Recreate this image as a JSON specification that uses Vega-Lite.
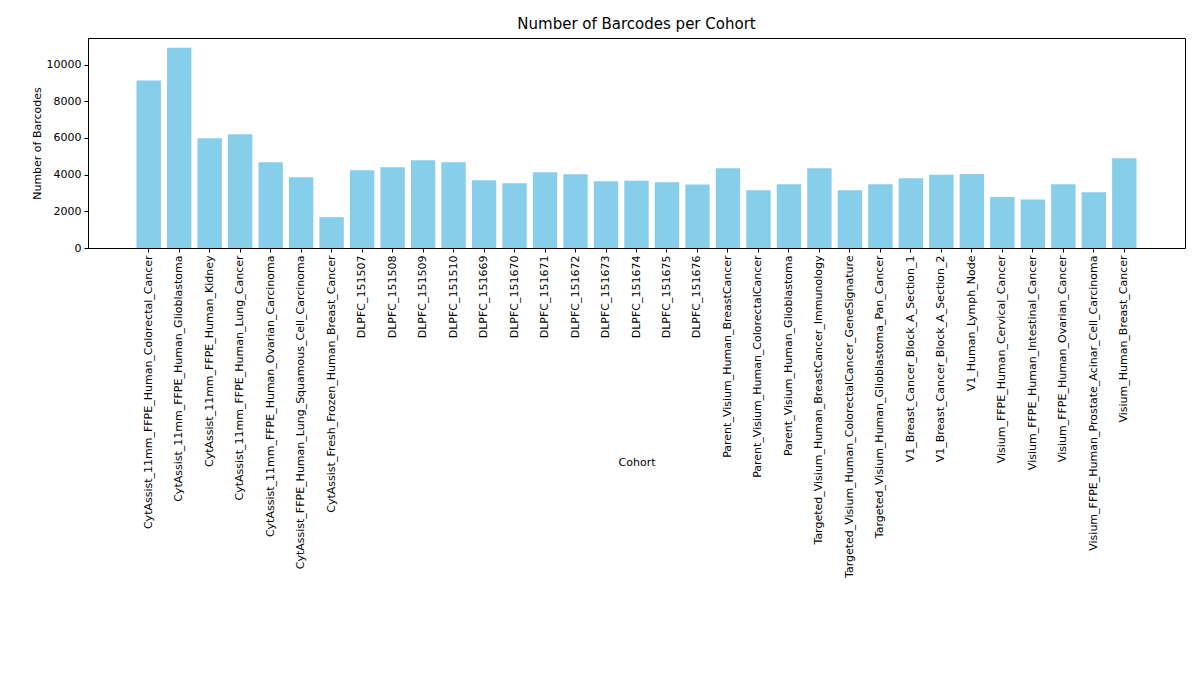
{
  "$schema": "https://vega.github.io/schema/vega-lite/v6.json",
  "autosize": {"type": "none"},
  "padding": {"left": 88, "top": 38, "right": 15, "bottom": 452},
  "width": 1097,
  "height": 210,
  "background": "white",
  "title": {"text": "Number of Barcodes per Cohort", "font": "DejaVu Sans", "fontSize": 15, "fontWeight": "normal", "color": "black", "offset": 6},
  "data": {"values": [
    {"cohort": "CytAssist_11mm_FFPE_Human_Colorectal_Cancer", "n": 9130},
    {"cohort": "CytAssist_11mm_FFPE_Human_Glioblastoma", "n": 10920},
    {"cohort": "CytAssist_11mm_FFPE_Human_Kidney", "n": 5980},
    {"cohort": "CytAssist_11mm_FFPE_Human_Lung_Cancer", "n": 6200},
    {"cohort": "CytAssist_11mm_FFPE_Human_Ovarian_Carcinoma", "n": 4670},
    {"cohort": "CytAssist_FFPE_Human_Lung_Squamous_Cell_Carcinoma", "n": 3860},
    {"cohort": "CytAssist_Fresh_Frozen_Human_Breast_Cancer", "n": 1680},
    {"cohort": "DLPFC_151507", "n": 4240},
    {"cohort": "DLPFC_151508", "n": 4400},
    {"cohort": "DLPFC_151509", "n": 4780},
    {"cohort": "DLPFC_151510", "n": 4670},
    {"cohort": "DLPFC_151669", "n": 3700},
    {"cohort": "DLPFC_151670", "n": 3530},
    {"cohort": "DLPFC_151671", "n": 4130},
    {"cohort": "DLPFC_151672", "n": 4020},
    {"cohort": "DLPFC_151673", "n": 3640},
    {"cohort": "DLPFC_151674", "n": 3670},
    {"cohort": "DLPFC_151675", "n": 3590},
    {"cohort": "DLPFC_151676", "n": 3460},
    {"cohort": "Parent_Visium_Human_BreastCancer", "n": 4350},
    {"cohort": "Parent_Visium_Human_ColorectalCancer", "n": 3150},
    {"cohort": "Parent_Visium_Human_Glioblastoma", "n": 3470},
    {"cohort": "Targeted_Visium_Human_BreastCancer_Immunology", "n": 4350},
    {"cohort": "Targeted_Visium_Human_ColorectalCancer_GeneSignature", "n": 3150},
    {"cohort": "Targeted_Visium_Human_Glioblastoma_Pan_Cancer", "n": 3470},
    {"cohort": "V1_Breast_Cancer_Block_A_Section_1", "n": 3800},
    {"cohort": "V1_Breast_Cancer_Block_A_Section_2", "n": 4000},
    {"cohort": "V1_Human_Lymph_Node", "n": 4040},
    {"cohort": "Visium_FFPE_Human_Cervical_Cancer", "n": 2780},
    {"cohort": "Visium_FFPE_Human_Intestinal_Cancer", "n": 2650},
    {"cohort": "Visium_FFPE_Human_Ovarian_Cancer", "n": 3480},
    {"cohort": "Visium_FFPE_Human_Prostate_Acinar_Cell_Carcinoma", "n": 3040},
    {"cohort": "Visium_Human_Breast_Cancer", "n": 4900}
  ]},
  "mark": {"type": "bar", "color": "#87ceeb"},
  "encoding": {
    "x": {"field": "cohort", "type": "nominal", "sort": null, "title": "Cohort",
      "scale": {"paddingInner": 0.2, "paddingOuter": 1, "range": [18, 1079]},
      "axis": {"labelAngle": -90, "titlePadding": 8, "labelLimit": 0}},
    "y": {"field": "n", "type": "quantitative", "title": "Number of Barcodes",
      "scale": {"domain": [0, 11450], "nice": false},
      "axis": {"values": [0, 2000, 4000, 6000, 8000, 10000], "grid": false, "format": "d"}}
  },
  "config": {
    "view": {"stroke": "black", "strokeWidth": 1},
    "axis": {"labelFont": "DejaVu Sans", "titleFont": "DejaVu Sans", "labelFontSize": 11, "titleFontSize": 11,
      "titleFontWeight": "normal", "labelColor": "black", "titleColor": "black",
      "domainColor": "black", "tickColor": "black", "tickSize": 4, "labelPadding": 3}
  }
}
